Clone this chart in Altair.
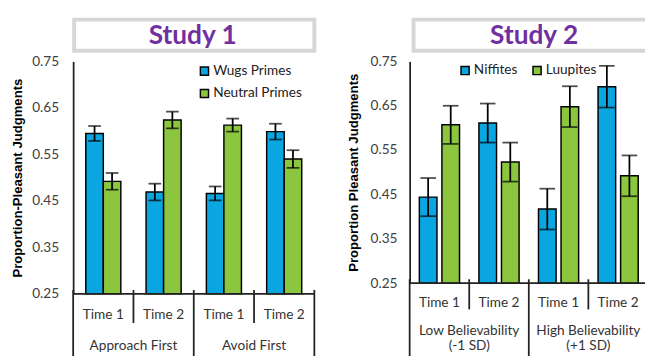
import altair as alt
import pandas as pd

FONT = "Lato"
BLUE = "#0AA6E2"
GREEN = "#8CC63F"
PURPLE = "#7030A0"

y_ticks = [0.25, 0.35, 0.45, 0.55, 0.65, 0.75]

# ---- Study 1 ----
s1_cells = ["1:Time 1", "2:Time 2", "3:Time 1", "4:Time 2"]
s1_groups = ["Approach First", "Approach First", "Avoid First", "Avoid First"]
s1_series = ["Wugs Primes", "Neutral Primes"]
s1_wugs = [0.595, 0.469, 0.466, 0.599]
s1_wugs_err = [0.016, 0.018, 0.015, 0.017]
s1_neutral = [0.492, 0.624, 0.613, 0.540]
s1_neutral_err = [0.018, 0.018, 0.014, 0.019]

# ---- Study 2 ----
s2_cells = ["1:Time 1", "2:Time 2", "3:Time 1", "4:Time 2"]
s2_groups = ["Low Believability\n(-1 SD)", "Low Believability\n(-1 SD)",
             "High Believability\n(+1 SD)", "High Believability\n(+1 SD)"]
s2_series = ["Niffites", "Luupites"]
s2_niff = [0.444, 0.611, 0.417, 0.693]
s2_niff_err = [0.043, 0.044, 0.046, 0.047]
s2_luup = [0.607, 0.523, 0.648, 0.492]
s2_luup_err = [0.043, 0.044, 0.046, 0.046]


def panel(cells, groups, series, va, ea, vb, eb, title, ytitle, W, H,
          pin, pout, cap, legend, title_x, box_x0, box_x1, sep_short, lab_pad,
          grp_y, ytitle_pad, lbl_pad, long_len):
    rows = []
    for i, c in enumerate(cells):
        rows.append(dict(cell=c, group=groups[i], series=series[0], value=va[i],
                         lo=va[i] - ea[i], hi=va[i] + ea[i], base=y_ticks[0]))
        rows.append(dict(cell=c, group=groups[i], series=series[1], value=vb[i],
                         lo=vb[i] - eb[i], hi=vb[i] + eb[i], base=y_ticks[0]))
    df = pd.DataFrame(rows)
    xscale = alt.Scale(domain=cells, paddingInner=0, paddingOuter=0)
    yscale = alt.Scale(domain=[y_ticks[0], y_ticks[-1]], nice=False, zero=False)
    xoff = alt.XOffset("series:N", sort=series,
                       scale=alt.Scale(domain=series, paddingInner=pin, paddingOuter=pout))
    xaxis = alt.Axis(
        title=None, labelExpr="substring(datum.label, 2)", labelAngle=0,
        ticks=False, domain=False, labelFont=FONT,
        labelFontSize=14, labelColor="#333", labelPadding=lab_pad, grid=False)
    yaxis = alt.Axis(
        values=y_ticks, format=".2f", ticks=False, grid=False, domainColor="#222",
        domainWidth=1.8, labelFont=FONT, labelFontSize=14, labelColor="#404040",
        labelPadding=lbl_pad, title=ytitle, titleFont="Liberation Sans",
        titleFontWeight="bold", titleFontSize=13.5, titleColor="black",
        titlePadding=ytitle_pad)
    X = alt.X("cell:N", scale=xscale, sort=cells, axis=xaxis)

    bars = alt.Chart(df).mark_bar(stroke="black", strokeWidth=1.5).encode(
        x=X,
        xOffset=xoff,
        y=alt.Y("value:Q", scale=yscale, axis=yaxis),
        y2="base:Q",
        color=alt.Color("series:N", sort=series,
                        scale=alt.Scale(domain=series, range=[BLUE, GREEN]),
                        legend=alt.Legend(title=None, symbolType="square",
                                          symbolSize=70, symbolStrokeColor="black",
                                          symbolStrokeWidth=1.5, labelFont=FONT,
                                          labelFontSize=14, labelColor="#222",
                                          labelOffset=2, orient="none", **legend)),
    )
    err = alt.Chart(df).mark_rule(color="black", strokeWidth=1.8).encode(
        x=X, xOffset=xoff,
        y=alt.Y("lo:Q", scale=yscale, axis=yaxis),
        y2="hi:Q",
    )
    cap_lo = alt.Chart(df).mark_tick(color="black", thickness=1.8, size=cap).encode(
        x=X, xOffset=xoff,
        y=alt.Y("lo:Q", scale=yscale, axis=yaxis),
    )
    cap_hi = alt.Chart(df).mark_tick(color="black", thickness=1.8, size=cap).encode(
        x=X, xOffset=xoff,
        y=alt.Y("hi:Q", scale=yscale, axis=yaxis),
    )

    cdf = pd.DataFrame({"cell": cells, "group": groups,
                        "kind": ["long", "short", "long", "short"]})
    baseline = alt.Chart(cdf.iloc[[0]]).mark_rule(color="#222", strokeWidth=1.8).encode(
        x=alt.value(0), x2=alt.value(W), y=alt.value(H))
    sep_long = alt.Chart(cdf).transform_filter("datum.kind == 'long'").mark_rule(
        color="#222", strokeWidth=1.8).encode(
        x=alt.X("cell:N", scale=xscale, sort=cells, bandPosition=0, axis=xaxis),
        y=alt.value(H - 4), y2=alt.value(H + long_len))
    sep_short = alt.Chart(cdf).transform_filter("datum.kind == 'short'").mark_rule(
        color="#222", strokeWidth=1.8).encode(
        x=alt.X("cell:N", scale=xscale, sort=cells, bandPosition=0, axis=xaxis),
        y=alt.value(H - 4), y2=alt.value(H + sep_short))
    sep_end = alt.Chart(cdf.iloc[[3]]).mark_rule(
        color="#222", strokeWidth=1.8).encode(
        x=alt.X("cell:N", scale=xscale, sort=cells, bandPosition=1, axis=xaxis),
        y=alt.value(H - 4), y2=alt.value(H + long_len))
    grp = alt.Chart(cdf.iloc[[0, 2]]).mark_text(
        font=FONT, fontSize=14, color="#333", baseline="top", align="center",
        lineBreak="\n", lineHeight=16).encode(
        x=alt.X("cell:N", scale=xscale, sort=cells, bandPosition=1, axis=xaxis),
        y=alt.value(H + grp_y), text="group:N")

    tdf = pd.DataFrame({"t": [title]})
    box = alt.Chart(tdf).mark_rect(fill="white", stroke="#D6D6D6", strokeWidth=4).encode(
        x=alt.value(box_x0), x2=alt.value(box_x1), y=alt.value(-43), y2=alt.value(-11))
    ttl = alt.Chart(tdf).mark_text(font=FONT, fontSize=27, fontWeight="bold",
                                   color=PURPLE, baseline="alphabetic").encode(
        x=alt.value(title_x), y=alt.value(-18), text="t:N")
    return alt.layer(bars, err, cap_lo, cap_hi, baseline, sep_long, sep_short,
                     sep_end, grp, box, ttl).properties(width=W, height=H)


p1 = panel(s1_cells, s1_groups, s1_series, s1_wugs, s1_wugs_err, s1_neutral,
           s1_neutral_err, "Study 1", "Proportion-Pleasant Judgments", 248, 239,
           0.0, 0.72, 13, dict(legendX=128, legendY=3, direction="vertical", rowPadding=7),
           123, 1, 248, 30, 14, 47, 7, 15, 70)
p2 = panel(s2_cells, s2_groups, s2_series, s2_niff, s2_niff_err, s2_luup,
           s2_luup_err, "Study 2", "Proportion Pleasant Judgments", 245, 228,
           0.22, 0.43, 16, dict(legendX=50, legendY=2, direction="horizontal",
                                columnPadding=12),
           128, 4, 251, 27, 13, 42, 10, 13, 80)

chart = alt.hconcat(p1, p2, spacing=31).resolve_scale(
    color="independent", x="independent", y="independent", xOffset="independent"
).resolve_legend(color="independent").properties(
    padding={"left": 3, "top": 5, "right": -11, "bottom": -11}
).configure_view(stroke=None)

chart.save("out.html", embed_options={"renderer": "svg", "actions": False})
